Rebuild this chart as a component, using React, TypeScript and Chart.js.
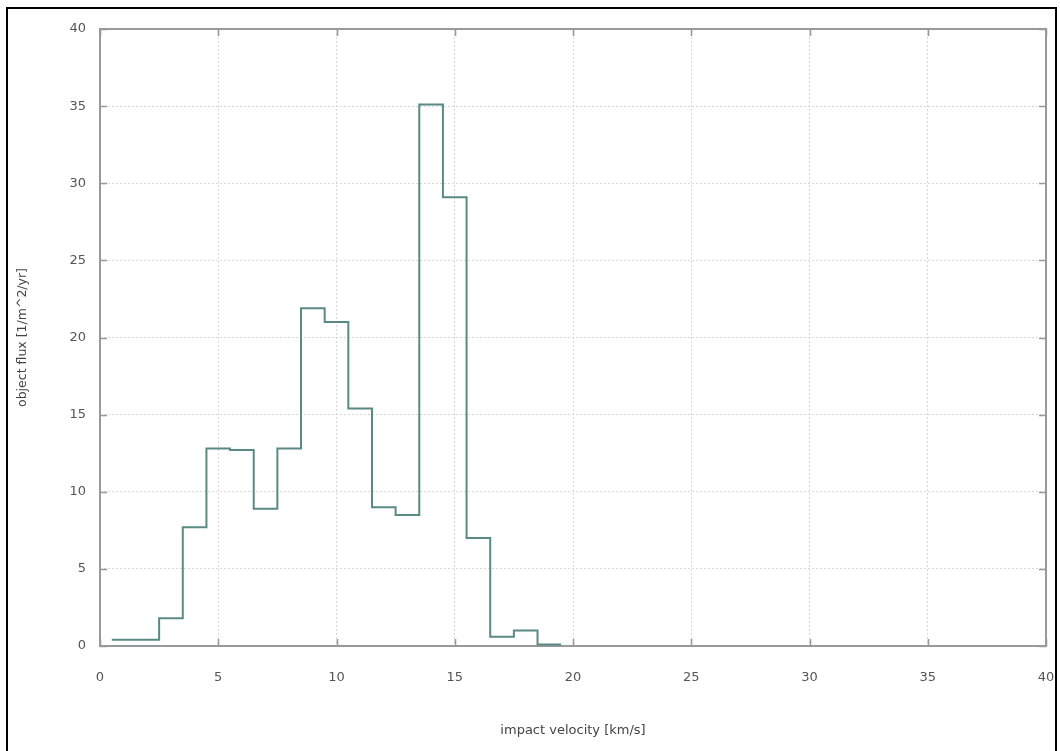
import React, { useEffect, useRef } from "react";
import { Chart, registerables } from "chart.js";

Chart.register(...registerables);

// Histogram bins (centers, km/s) and object flux values [1/m^2/yr]
const binCenters = [1, 2, 3, 4, 5, 6, 7, 8, 9, 10, 11, 12, 13, 14, 15, 16, 17, 18, 19];
const fluxValues = [0.4, 0.4, 1.8, 7.7, 12.8, 12.7, 8.9, 12.8, 21.9, 21.0, 15.4, 9.0, 8.5, 35.1, 29.1, 7.0, 0.6, 1.0, 0.1];
const binWidth = 1;
const xTickValues = [0, 5, 10, 15, 20, 25, 30, 35, 40];
const yTickValues = [0, 5, 10, 15, 20, 25, 30, 35, 40];
const xTitle = "impact velocity [km/s]";
const yTitle = "object flux [1/m^2/yr]";

const FONT = "'DejaVu Sans', 'Liberation Sans', sans-serif";

// step points at bin edges
const stepPoints = (() => {
  const pts = binCenters.map((c, i) => ({ x: c - binWidth / 2, y: fluxValues[i] }));
  const last = binCenters.length - 1;
  pts.push({ x: binCenters[last] + binWidth / 2, y: fluxValues[last] });
  return pts;
})();

const framePlugin = {
  id: "frameAndTicks",
  beforeDatasetsDraw(chart: any) {
    const { ctx, chartArea, scales } = chart;
    const { left, right, top, bottom } = chartArea;
    ctx.save();
    ctx.strokeStyle = "#999";
    ctx.lineWidth = 1.6;
    const len = 7;
    ctx.beginPath();
    xTickValues.forEach((v) => {
      const px = Math.round(scales.x.getPixelForValue(v)) + 0.5;
      ctx.moveTo(px, bottom);
      ctx.lineTo(px, bottom - len);
      ctx.moveTo(px, top);
      ctx.lineTo(px, top + len);
    });
    yTickValues.forEach((v) => {
      const py = Math.round(scales.y.getPixelForValue(v)) + 0.5;
      ctx.moveTo(left, py);
      ctx.lineTo(left + len, py);
      ctx.moveTo(right, py);
      ctx.lineTo(right - len, py);
    });
    ctx.stroke();
    ctx.lineWidth = 2;
    ctx.strokeRect(left, top, right - left, bottom - top);
    ctx.restore();
  },
};

export default function App() {
  const canvasRef = useRef<HTMLCanvasElement | null>(null);

  useEffect(() => {
    const canvas = canvasRef.current;
    if (!canvas) return;
    const chart = new Chart(canvas, {
      type: "line",
      data: {
        datasets: [
          {
            data: stepPoints,
            stepped: true,
            borderColor: "#5a8a84",
            borderWidth: 2,
            pointRadius: 0,
            fill: false,
          },
        ],
      },
      options: {
        animation: false,
        responsive: false,
        devicePixelRatio: 1,
        layout: { padding: { left: 0, top: 29, right: 14, bottom: 0 } },
        plugins: { legend: { display: false }, tooltip: { enabled: false } },
        scales: {
          x: {
            type: "linear",
            min: 0,
            max: 40,
            afterBuildTicks: (scale: any) => {
              scale.ticks = xTickValues.map((v) => ({ value: v }));
            },
            afterFit: (scale: any) => {
              scale.height = 105;
            },
            ticks: {
              color: "#555",
              font: { family: FONT, size: 13 },
              padding: 3,
              maxRotation: 0,
            },
            grid: {
              color: "#d8d8d8",
              lineWidth: 1,
              drawTicks: true,
              tickLength: 21,
              tickColor: "transparent",
            },
            border: { display: false, dash: [2, 2] },
            title: {
              display: true,
              text: xTitle,
              color: "#444",
              font: { family: FONT, size: 13 },
              padding: { top: 0, bottom: 13 },
            },
          },
          y: {
            type: "linear",
            min: 0,
            max: 40,
            afterBuildTicks: (scale: any) => {
              scale.ticks = yTickValues.map((v) => ({ value: v }));
            },
            afterFit: (scale: any) => {
              scale.width = 100;
            },
            ticks: {
              color: "#555",
              font: { family: FONT, size: 13 },
              padding: 3,
            },
            grid: {
              color: "#d8d8d8",
              lineWidth: 1,
              drawTicks: true,
              tickLength: 11,
              tickColor: "transparent",
            },
            border: { display: false, dash: [2, 2] },
            title: {
              display: true,
              text: yTitle,
              color: "#444",
              font: { family: FONT, size: 12.5 },
              padding: { top: 15, bottom: 0 },
            },
          },
        },
      },
      plugins: [framePlugin],
    });
    return () => chart.destroy();
  }, []);

  return (
    <div
      style={{
        position: "fixed",
        left: 0,
        top: 0,
        width: 1060,
        height: 751,
        overflow: "hidden",
        background: "#fff",
      }}
    >
      <canvas ref={canvasRef} width={1060} height={751} style={{ position: "absolute", left: 0, top: 0 }} />
      <div
        style={{
          position: "absolute",
          left: 6,
          top: 7,
          width: 1047,
          height: 800,
          borderLeft: "2px solid #000",
          borderTop: "2px solid #000",
          borderRight: "2px solid #000",
          pointerEvents: "none",
        }}
      />
    </div>
  );
}
